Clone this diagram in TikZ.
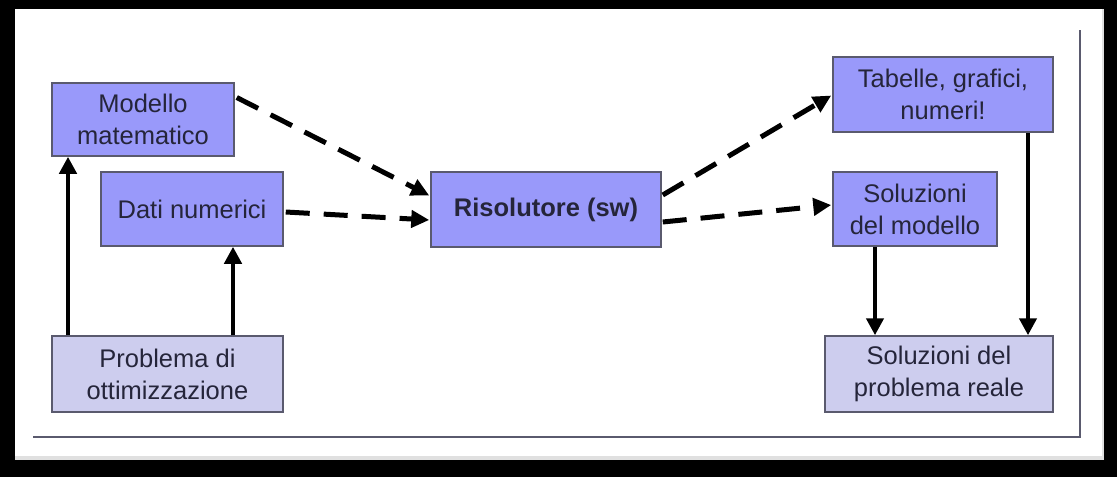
\documentclass[tikz,border=0pt]{standalone}
\usepackage{fontspec}
\setmainfont{Liberation Sans}
\usetikzlibrary{arrows.meta}
\definecolor{boxblue}{HTML}{9999FA}
\definecolor{boxlight}{HTML}{CDCDEE}
\definecolor{boxedge}{HTML}{5A5A6E}
\definecolor{txt}{HTML}{25253A}
\tikzset{
  bx/.style={draw=boxedge, line width=1.5pt, fill=boxblue, inner sep=0pt, align=center,
    text=txt, font=\fontsize{25.5}{32}\selectfont},
  lbx/.style={bx, fill=boxlight},
  sarrow/.style={line width=4.5pt, -{Triangle[length=17pt,width=17pt]}},
  darrow/.style={line width=5pt, dash pattern=on 24pt off 14pt, -{Triangle[length=18pt,width=17pt]}},
}
\begin{document}
\begin{tikzpicture}[x=1pt,y=-1pt]
\fill[black] (0,0) rectangle (1117,477);
\fill[white!88!black] (15,9) rectangle (1104,460);
\fill[white] (15,9) rectangle (1102,456);
\useasboundingbox (0,0) rectangle (1117,477);
\draw[line width=1.5pt, boxedge] (33,437) -- (1080,437) -- (1080,30);

\node[bx, minimum width=182pt, minimum height=73pt] (mod) at (143,119.5) {Modello\\matematico};
\node[bx, minimum width=182pt, minimum height=74pt] (dati) at (192,209) {Dati numerici};
\node[lbx, minimum width=231pt, minimum height=76pt] (prob) at (167.5,374) {Problema di\\ottimizzazione};
\node[bx, minimum width=230pt, minimum height=75pt, font=\fontsize{25.5}{32}\selectfont\bfseries] (ris) at (546,209.5) {Risolutore (sw)};
\node[bx, minimum width=220pt, minimum height=75pt] (tab) at (943,94.5) {Tabelle, grafici,\\numeri!};
\node[bx, minimum width=164pt, minimum height=74pt] (solm) at (915,209) {Soluzioni\\del modello};
\node[lbx, minimum width=228pt, minimum height=76pt] (solr) at (939,374) {Soluzioni del\\problema reale};

\draw[sarrow] ([xshift=-99.5pt]prob.north) -- ([xshift=-75pt]mod.south);
\draw[sarrow] ([xshift=65.5pt]prob.north) -- ([xshift=41pt]dati.south);
\draw[sarrow] ([xshift=-40pt]solm.south) -- ([xshift=-64pt]solr.north);
\draw[sarrow] ([xshift=85pt]tab.south) -- ([xshift=89pt]solr.north);

\draw[darrow] ([xshift=2pt,yshift=22pt]mod.east) -- ([xshift=-1pt,yshift=14pt]ris.west);
\draw[darrow] ([xshift=2pt,yshift=-3pt]dati.east) -- ([xshift=-1pt,yshift=-10.5pt]ris.west);
\draw[darrow] ([xshift=1pt,yshift=14.5pt]ris.east) -- ([xshift=-1pt,yshift=-1pt]tab.west);
\draw[darrow] ([xshift=1pt,yshift=-12.5pt]ris.east) -- ([xshift=-1pt,yshift=4pt]solm.west);
\end{tikzpicture}
\end{document}
